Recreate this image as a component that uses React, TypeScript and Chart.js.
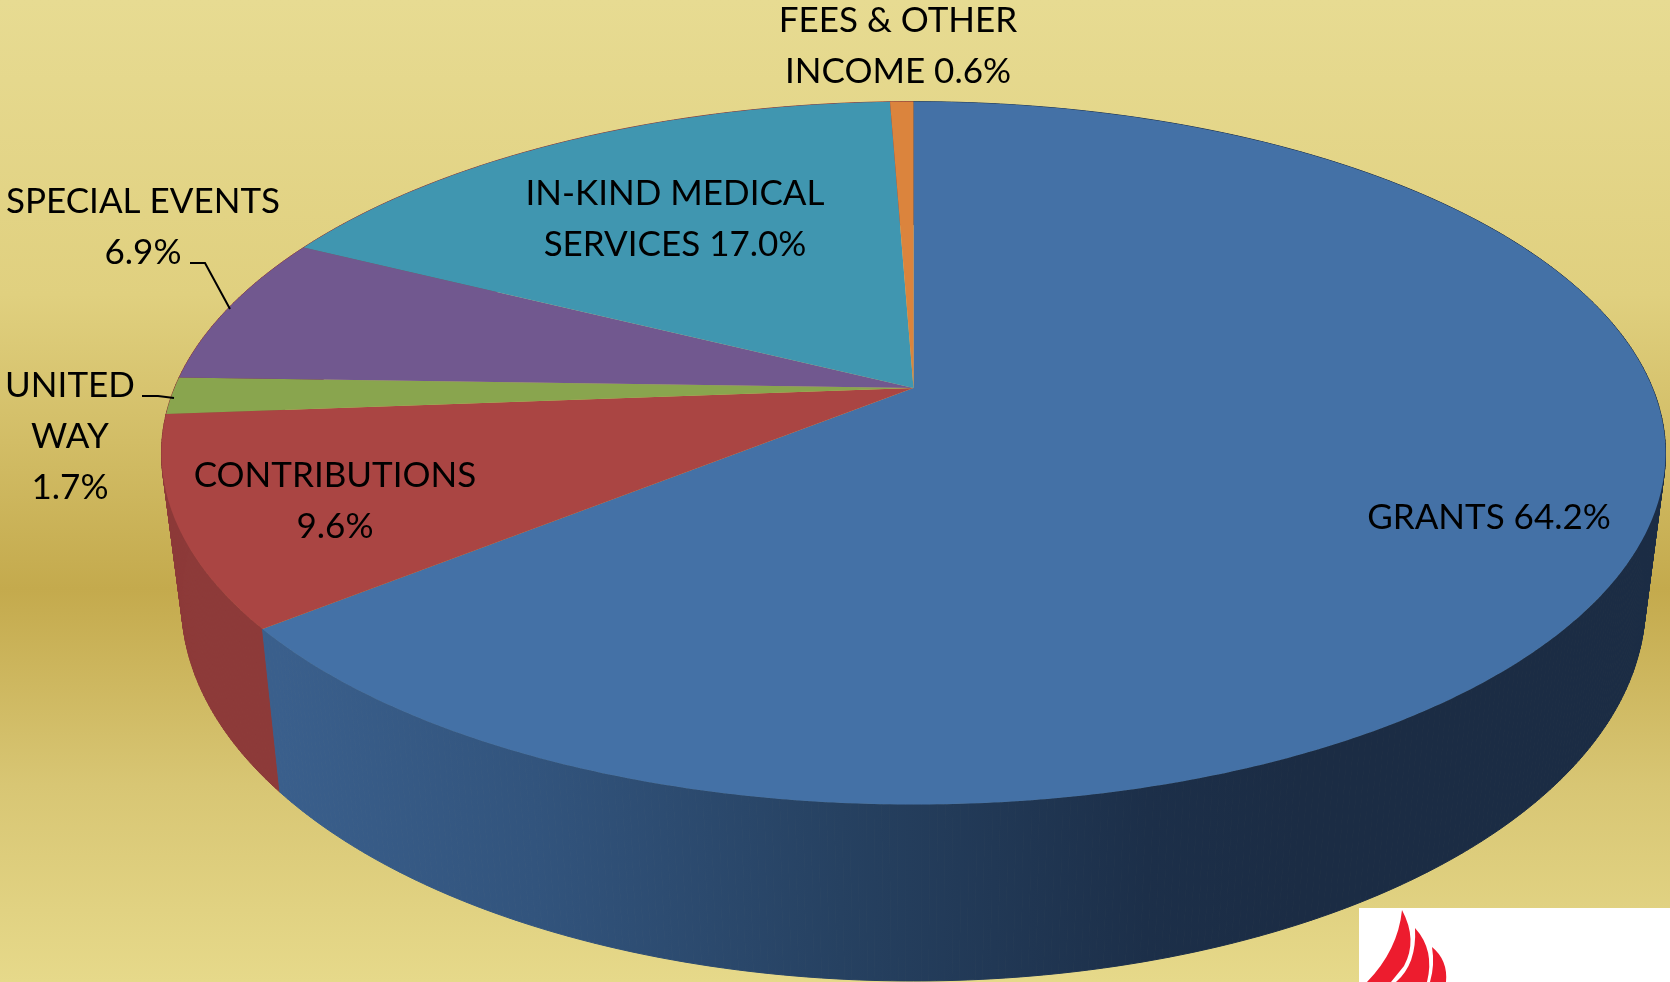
import React, { useEffect, useRef } from "react";
import { Chart, registerables } from "chart.js";

Chart.register(...registerables);

const categories = ["GRANTS", "CONTRIBUTIONS", "UNITED WAY", "SPECIAL EVENTS", "IN-KIND MEDICAL SERVICES", "FEES & OTHER INCOME"];
const shares = [64.2, 9.6, 1.7, 6.9, 17.0, 0.6];
const sliceColors = ["#4471A6", "#AA4543", "#89A54E", "#71588F", "#4096B0", "#DB843D"];
const labelLines = [
  ["GRANTS 64.2%"],
  ["CONTRIBUTIONS", "9.6%"],
  ["UNITED", "WAY", "1.7%"],
  ["SPECIAL EVENTS", "6.9%"],
  ["IN-KIND MEDICAL", "SERVICES 17.0%"],
  ["FEES & OTHER", "INCOME 0.6%"],
];

const W = 1670;
const H = 982;
// centre x and first baseline for each label
const labelAnchors = [
  [1489, 529],
  [335, 487],
  [70, 397],
  [143, 213],
  [675, 205],
  [898, 32],
];
const LINE_GAP = 51;
const leaders = [
  [[190, 263], [205, 263], [230, 309]],
  [[142, 396], [158, 396], [174, 398]],
];

// perspective view of the disc
const APEX_X = 913.5;
const APEX_Y = 388;
const K = 0.1852;
const A = 739;
const B = 339.4;
// lower rim derived from the upper rim
const FX = 0.9733;
const FY = 1.076;
const REF_Y = 631.7;
const REF_Y2 = 795;

const top = (a: number) => {
  const u = Math.cos(a);
  const v = Math.sin(a);
  const d = 1 - K * v;
  return [APEX_X + (A * u) / d, APEX_Y + (B * v) / d];
};
const low = (a: number) => {
  const [x, y] = top(a);
  return [APEX_X + FX * (x - APEX_X), REF_Y2 + FY * (y - REF_Y)];
};

const sideFill = (ctx: CanvasRenderingContext2D, i: number) => {
  if (i === 0) {
    const g = ctx.createLinearGradient(280, 0, 1300, 0);
    g.addColorStop(0, "#3A5F8C");
    g.addColorStop(0.25, "#32547D");
    g.addColorStop(0.55, "#264161");
    g.addColorStop(0.85, "#1C2F49");
    g.addColorStop(1, "#1B2C44");
    return g;
  }
  return "#8D3A39";
};

const piePlugin = {
  id: "perspectivePie",
  beforeDraw(chart: any) {
    const ctx: CanvasRenderingContext2D = chart.ctx;
    const g = ctx.createLinearGradient(0, 0, 0, H);
    g.addColorStop(0, "#E7DB92");
    g.addColorStop(0.3, "#E0D07F");
    g.addColorStop(0.6, "#C4AA4D");
    g.addColorStop(0.8, "#D8C674");
    g.addColorStop(1, "#E6D98A");
    ctx.fillStyle = g;
    ctx.fillRect(0, 0, W, H);
  },
  beforeDatasetsDraw(chart: any) {
    const ctx: CanvasRenderingContext2D = chart.ctx;
    const arcs = chart.getDatasetMeta(0).data;
    const step = Math.PI / 360;
    // side wall, back slices first
    for (let i = arcs.length - 1; i >= 0; i--) {
      const arc = arcs[i];
      const fill = sideFill(ctx, i);
      ctx.fillStyle = fill;
      ctx.strokeStyle = fill;
      ctx.lineWidth = 1;
      for (let a = arc.startAngle; a < arc.endAngle; a += step) {
        const b = Math.min(a + step, arc.endAngle);
        const p = [top(a), top(b), low(b), low(a)];
        ctx.beginPath();
        p.forEach(([x, y], j) => (j ? ctx.lineTo(x, y) : ctx.moveTo(x, y)));
        ctx.closePath();
        ctx.fill();
        ctx.stroke();
      }
    }
    // top face
    arcs.forEach((arc: any) => {
      ctx.fillStyle = arc.options.backgroundColor;
      ctx.beginPath();
      ctx.moveTo(APEX_X, APEX_Y);
      for (let a = arc.startAngle; a < arc.endAngle; a += step) {
        const [x, y] = top(a);
        ctx.lineTo(x, y);
      }
      const [ex, ey] = top(arc.endAngle);
      ctx.lineTo(ex, ey);
      ctx.closePath();
      ctx.fill();
    });
    return false;
  },
  afterDraw(chart: any) {
    const ctx: CanvasRenderingContext2D = chart.ctx;
    ctx.fillStyle = "#000";
    ctx.font = '35px Lato, "Open Sans", sans-serif';
    ctx.textAlign = "center";
    ctx.textBaseline = "alphabetic";
    labelLines.forEach((lines, i) => {
      const [x, y] = labelAnchors[i];
      lines.forEach((t, j) => ctx.fillText(t, x, y + j * LINE_GAP));
    });
    ctx.strokeStyle = "#000";
    ctx.lineWidth = 2;
    leaders.forEach((pts) => {
      ctx.beginPath();
      pts.forEach(([x, y], j) => (j ? ctx.lineTo(x, y) : ctx.moveTo(x, y)));
      ctx.stroke();
    });
    // logo corner
    ctx.fillStyle = "#fff";
    ctx.fillRect(1359, 908, 311, 74);
    ctx.fillStyle = "#ED1C2E";
    ctx.beginPath();
    ctx.moveTo(1402, 910);
    ctx.quadraticCurveTo(1418, 940, 1404, 966);
    ctx.lineTo(1391, 982);
    ctx.lineTo(1367, 982);
    ctx.quadraticCurveTo(1398, 950, 1402, 910);
    ctx.closePath();
    ctx.fill();
    ctx.beginPath();
    ctx.moveTo(1415, 928);
    ctx.quadraticCurveTo(1435, 950, 1427, 982);
    ctx.lineTo(1396, 982);
    ctx.quadraticCurveTo(1417, 964, 1415, 928);
    ctx.closePath();
    ctx.fill();
    ctx.beginPath();
    ctx.moveTo(1432, 947);
    ctx.quadraticCurveTo(1448, 960, 1446, 982);
    ctx.lineTo(1430, 982);
    ctx.quadraticCurveTo(1435, 965, 1432, 947);
    ctx.closePath();
    ctx.fill();
  },
};

export default function App() {
  const ref = useRef<HTMLCanvasElement>(null);
  useEffect(() => {
    document.body.style.margin = "0";
    const chart = new Chart(ref.current as HTMLCanvasElement, {
      type: "pie",
      data: {
        labels: categories,
        datasets: [{ data: shares, backgroundColor: sliceColors, borderWidth: 0 }],
      },
      options: {
        responsive: false,
        animation: false,
        plugins: { legend: { display: false }, tooltip: { enabled: false } },
      },
      plugins: [piePlugin],
    } as any);
    return () => chart.destroy();
  }, []);
  return <canvas ref={ref} width={W} height={H} style={{ display: "block" }} />;
}
